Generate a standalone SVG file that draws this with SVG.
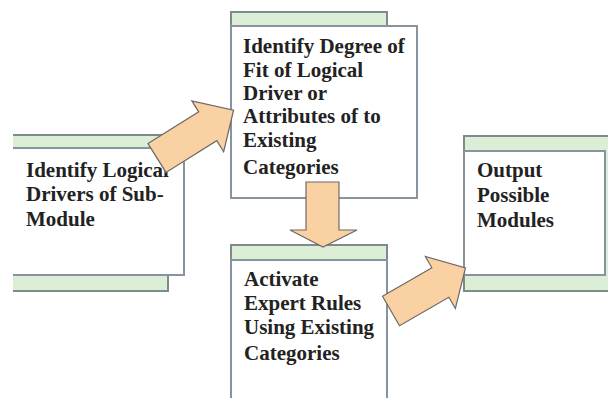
<svg xmlns="http://www.w3.org/2000/svg" width="608" height="398" viewBox="0 0 608 398">
<style>
.bar{fill:#dcefd6;stroke:#7d8c8a;stroke-width:2}
.box{fill:#ffffff;stroke:#8794a0;stroke-width:2}
.t{font-family:"Liberation Serif","Times New Roman",serif;font-weight:bold;font-size:21px;fill:#222222}
.arr{fill:#f9d1a3;stroke:#6e6a66;stroke-width:1.2;stroke-linejoin:miter}
</style>
<defs>
<clipPath id="c1"><rect x="13" y="0" width="300" height="398"/></clipPath>
<path id="blk" d="M0,-17 L57,-17 L57,-30 L86,0 L57,30 L57,17 L0,17 Z"/>
</defs>
<rect width="608" height="398" fill="#ffffff"/>
<g id="node1" clip-path="url(#c1)">
<rect class="bar" x="5" y="135" width="175" height="14"/>
<rect class="bar" x="5" y="274" width="163" height="17"/>
<rect class="box" x="5" y="148" width="179" height="127"/>
<text class="t" x="26" y="177">Identify Logical</text>
<text class="t" x="26" y="201">Drivers of Sub-</text>
<text class="t" x="26" y="226">Module</text>
</g>
<g id="node2">
<rect class="bar" x="231" y="12" width="156" height="14"/>
<rect class="box" x="231" y="26" width="186" height="172"/>
<text class="t" x="243" y="53">Identify Degree of</text>
<text class="t" x="243" y="77">Fit of Logical</text>
<text class="t" x="243" y="100">Driver or</text>
<text class="t" x="243" y="123">Attributes of to</text>
<text class="t" x="243" y="147">Existing</text>
<text class="t" x="243" y="174">Categories</text>
</g>
<g id="node3">
<rect class="bar" x="231" y="245" width="156" height="15"/>
<rect class="box" x="231" y="260" width="156" height="150"/>
<text class="t" x="244" y="286">Activate</text>
<text class="t" x="244" y="310">Expert Rules</text>
<text class="t" x="244" y="334">Using Existing</text>
<text class="t" x="244" y="360">Categories</text>
</g>
<g id="node4">
<rect class="bar" x="464" y="136" width="160" height="155"/>
<rect class="box" x="464" y="151" width="141" height="124"/>
<text class="t" x="477" y="177">Output</text>
<text class="t" x="477" y="202">Possible</text>
<text class="t" x="477" y="227">Modules</text>
</g>
<g id="connectors">
<use href="#blk" class="arr" transform="translate(157,158) rotate(-32) scale(1.05,1)"/>
<path class="arr" d="M306,182 L339,182 L339,230 L357,230 L323,247 L290,230 L306,230 Z"/>
<use href="#blk" class="arr" transform="translate(391,311) rotate(-30)"/>
</g>
</svg>
